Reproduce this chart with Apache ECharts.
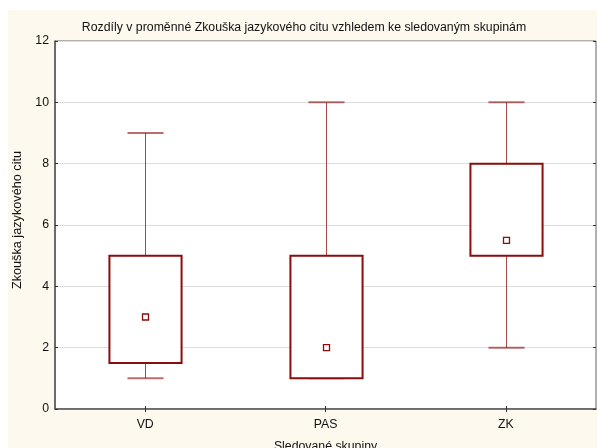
<!DOCTYPE html>
<html>
<head>
<meta charset="utf-8">
<script src="https://cdn.jsdelivr.net/npm/echarts@6/dist/echarts.min.js"></script>
<style>html,body{margin:0;padding:0;background:#fff}#c{width:597px;height:448px}</style>
</head>
<body>
<div id="c"></div>
<script>
const categories = ['VD', 'PAS', 'ZK'];
const mins = [1, 1, 2];
const q1s = [1.5, 1, 5];
const medians = [3, 2, 5.5];
const q3s = [5, 5, 8];
const maxs = [9, 10, 10];
const yTicks = [0, 2, 4, 6, 8, 10, 12];

const data = categories.map((c, i) => [i, mins[i], q1s[i], medians[i], q3s[i], maxs[i]]);
const RED = '#8b0c0c';
const FONT = 'Liberation Sans, Arial, sans-serif';

const chart = echarts.init(document.getElementById('c'), null, {renderer: 'canvas'});
chart.setOption({
  backgroundColor: '#ffffff',
  animation: false,
  graphic: [{
    type: 'rect', z: -10, silent: true,
    shape: {x: 8, y: 10, width: 600, height: 450},
    style: {fill: '#fdf9ef'}
  }],
  title: {
    text: 'Rozdíly v proměnné Zkouška jazykového citu vzhledem ke sledovaným skupinám',
    left: 299, top: 17, textAlign: 'center',
    textStyle: {fontFamily: FONT, fontSize: 12.3, fontWeight: 'normal', color: '#111'}
  },
  grid: {
    left: 55, right: 1, top: 41, bottom: 39,
    outerBoundsMode: 'none', containLabel: false,
    show: true, backgroundColor: '#ffffff', borderColor: '#666', borderWidth: 1
  },
  xAxis: [{
    type: 'category', data: categories, position: 'bottom',
    name: 'Sledované skupiny', nameLocation: 'middle', nameGap: 32,
    nameTextStyle: {fontFamily: FONT, fontSize: 12.3, color: '#111'},
    axisLine: {show: true, lineStyle: {color: '#555', width: 1.5}},
    axisTick: {show: true, inside: true, alignWithLabel: true, length: 3, lineStyle: {color: '#333'}},
    axisLabel: {fontFamily: FONT, fontSize: 12.3, color: '#111', margin: 10},
    splitLine: {show: false}
  }, {
    type: 'category', data: categories, position: 'top',
    axisLine: {show: false},
    axisTick: {show: true, inside: true, alignWithLabel: true, length: 3, lineStyle: {color: '#333'}},
    axisLabel: {show: false}
  }],
  yAxis: [{
    type: 'value', min: yTicks[0], max: yTicks[yTicks.length - 1], interval: 2,
    name: 'Zkouška jazykového citu', nameLocation: 'middle', nameGap: 25, nameRotate: 90,
    nameTextStyle: {fontFamily: FONT, fontSize: 12.7, color: '#111', padding: [0, 0, 0, 10]},
    axisLine: {show: true, lineStyle: {color: '#555', width: 1.5}},
    axisTick: {show: true, inside: true, length: 3, lineStyle: {color: '#333'}},
    axisLabel: {fontFamily: FONT, fontSize: 12.3, color: '#111', margin: 6},
    splitLine: {show: true, lineStyle: {color: '#dddddd', width: 1}}
  }, {
    type: 'value', min: yTicks[0], max: yTicks[yTicks.length - 1], interval: 2, position: 'right',
    axisLine: {show: false},
    axisTick: {show: true, inside: true, length: 3, lineStyle: {color: '#333'}},
    axisLabel: {show: false},
    splitLine: {show: false}
  }],
  series: [{
    type: 'custom',
    data: data,
    encode: {x: 0, y: [1, 2, 3, 4, 5]},
    renderItem: function (params, api) {
      const x = api.value(0);
      const pMin = api.coord([x, api.value(1)]);
      const pQ1 = api.coord([x, api.value(2)]);
      const pMed = api.coord([x, api.value(3)]);
      const pQ3 = api.coord([x, api.value(4)]);
      const pMax = api.coord([x, api.value(5)]);
      const band = api.size([1, 0])[0];
      const boxW = band * 0.4;
      const capW = boxW * 0.5;
      const cx = Math.round(pMed[0]) + 0.5;
      const wStyle = {stroke: RED, lineWidth: 1, opacity: 0.75};
      const children = [];
      children.push({type: 'line', shape: {x1: cx, y1: pMax[1], x2: cx, y2: pQ3[1]}, style: wStyle});
      children.push({type: 'line', shape: {x1: cx, y1: pQ1[1], x2: cx, y2: pMin[1]}, style: wStyle});
      children.push({type: 'line', shape: {x1: cx - capW / 2, y1: pMax[1], x2: cx + capW / 2, y2: pMax[1]}, style: {stroke: RED, lineWidth: 2, opacity: 0.6}});
      children.push({type: 'line', shape: {x1: cx - capW / 2, y1: pMin[1], x2: cx + capW / 2, y2: pMin[1]}, style: {stroke: RED, lineWidth: 2, opacity: 0.6}});
      children.push({type: 'rect', shape: {x: cx - boxW / 2, y: pQ3[1], width: boxW, height: pQ1[1] - pQ3[1]},
        style: {fill: '#ffffff', stroke: RED, lineWidth: 2}});
      children.push({type: 'rect', shape: {x: cx - 3, y: pMed[1] - 3, width: 6, height: 6},
        style: {fill: '#ffffff', stroke: RED, lineWidth: 1.3}});
      return {type: 'group', children: children};
    }
  }]
});
</script>
</body>
</html>
